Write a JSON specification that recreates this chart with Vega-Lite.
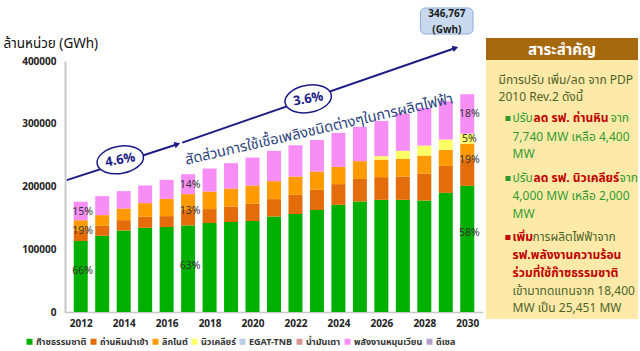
{
  "$schema": "https://vega.github.io/schema/vega-lite/v6.json",
  "padding": {"left": 3, "top": 7, "right": 0, "bottom": 4},
  "spacing": 3,
  "config": {
    "view": {"stroke": null},
    "font": "Tahoma, 'Noto Sans Thai', 'DejaVu Sans', sans-serif"
  },
  "datasets": {
    "energy": [
      {"year": 2012, "fuel": "ก๊าซธรรมชาติ", "rank": 1, "gwh": 113000},
      {"year": 2012, "fuel": "ถ่านหินนำเข้า", "rank": 2, "gwh": 16400},
      {"year": 2012, "fuel": "ลิกไนต์", "rank": 3, "gwh": 17000},
      {"year": 2012, "fuel": "พลังงานหมุนเวียน", "rank": 7, "gwh": 29200},
      {"year": 2013, "fuel": "ก๊าซธรรมชาติ", "rank": 1, "gwh": 121500},
      {"year": 2013, "fuel": "ถ่านหินนำเข้า", "rank": 2, "gwh": 15900},
      {"year": 2013, "fuel": "ลิกไนต์", "rank": 3, "gwh": 17000},
      {"year": 2013, "fuel": "พลังงานหมุนเวียน", "rank": 7, "gwh": 30200},
      {"year": 2014, "fuel": "ก๊าซธรรมชาติ", "rank": 1, "gwh": 129900},
      {"year": 2014, "fuel": "ถ่านหินนำเข้า", "rank": 2, "gwh": 16500},
      {"year": 2014, "fuel": "ลิกไนต์", "rank": 3, "gwh": 18600},
      {"year": 2014, "fuel": "พลังงานหมุนเวียน", "rank": 7, "gwh": 27600},
      {"year": 2015, "fuel": "ก๊าซธรรมชาติ", "rank": 1, "gwh": 134200},
      {"year": 2015, "fuel": "ถ่านหินนำเข้า", "rank": 2, "gwh": 17500},
      {"year": 2015, "fuel": "ลิกไนต์", "rank": 3, "gwh": 21800},
      {"year": 2015, "fuel": "พลังงานหมุนเวียน", "rank": 7, "gwh": 28100},
      {"year": 2016, "fuel": "ก๊าซธรรมชาติ", "rank": 1, "gwh": 135300},
      {"year": 2016, "fuel": "ถ่านหินนำเข้า", "rank": 2, "gwh": 17500},
      {"year": 2016, "fuel": "ลิกไนต์", "rank": 3, "gwh": 27500},
      {"year": 2016, "fuel": "พลังงานหมุนเวียน", "rank": 7, "gwh": 30300},
      {"year": 2017, "fuel": "ก๊าซธรรมชาติ", "rank": 1, "gwh": 137900},
      {"year": 2017, "fuel": "ถ่านหินนำเข้า", "rank": 2, "gwh": 24900},
      {"year": 2017, "fuel": "ลิกไนต์", "rank": 3, "gwh": 25000},
      {"year": 2017, "fuel": "พลังงานหมุนเวียน", "rank": 7, "gwh": 31800},
      {"year": 2018, "fuel": "ก๊าซธรรมชาติ", "rank": 1, "gwh": 141700},
      {"year": 2018, "fuel": "ถ่านหินนำเข้า", "rank": 2, "gwh": 22300},
      {"year": 2018, "fuel": "ลิกไนต์", "rank": 3, "gwh": 28000},
      {"year": 2018, "fuel": "พลังงานหมุนเวียน", "rank": 7, "gwh": 36600},
      {"year": 2019, "fuel": "ก๊าซธรรมชาติ", "rank": 1, "gwh": 143300},
      {"year": 2019, "fuel": "ถ่านหินนำเข้า", "rank": 2, "gwh": 24800},
      {"year": 2019, "fuel": "ลิกไนต์", "rank": 3, "gwh": 28700},
      {"year": 2019, "fuel": "พลังงานหมุนเวียน", "rank": 7, "gwh": 40400},
      {"year": 2020, "fuel": "ก๊าซธรรมชาติ", "rank": 1, "gwh": 144900},
      {"year": 2020, "fuel": "ถ่านหินนำเข้า", "rank": 2, "gwh": 27500},
      {"year": 2020, "fuel": "ลิกไนต์", "rank": 3, "gwh": 29200},
      {"year": 2020, "fuel": "พลังงานหมุนเวียน", "rank": 7, "gwh": 44500},
      {"year": 2021, "fuel": "ก๊าซธรรมชาติ", "rank": 1, "gwh": 152200},
      {"year": 2021, "fuel": "ถ่านหินนำเข้า", "rank": 2, "gwh": 27700},
      {"year": 2021, "fuel": "ลิกไนต์", "rank": 3, "gwh": 28600},
      {"year": 2021, "fuel": "พลังงานหมุนเวียน", "rank": 7, "gwh": 48300},
      {"year": 2022, "fuel": "ก๊าซธรรมชาติ", "rank": 1, "gwh": 156000},
      {"year": 2022, "fuel": "ถ่านหินนำเข้า", "rank": 2, "gwh": 30700},
      {"year": 2022, "fuel": "ลิกไนต์", "rank": 3, "gwh": 29200},
      {"year": 2022, "fuel": "พลังงานหมุนเวียน", "rank": 7, "gwh": 49900},
      {"year": 2023, "fuel": "ก๊าซธรรมชาติ", "rank": 1, "gwh": 162400},
      {"year": 2023, "fuel": "ถ่านหินนำเข้า", "rank": 2, "gwh": 32300},
      {"year": 2023, "fuel": "ลิกไนต์", "rank": 3, "gwh": 29100},
      {"year": 2023, "fuel": "พลังงานหมุนเวียน", "rank": 7, "gwh": 50500},
      {"year": 2024, "fuel": "ก๊าซธรรมชาติ", "rank": 1, "gwh": 170800},
      {"year": 2024, "fuel": "ถ่านหินนำเข้า", "rank": 2, "gwh": 33000},
      {"year": 2024, "fuel": "ลิกไนต์", "rank": 3, "gwh": 27500},
      {"year": 2024, "fuel": "พลังงานหมุนเวียน", "rank": 7, "gwh": 54100},
      {"year": 2025, "fuel": "ก๊าซธรรมชาติ", "rank": 1, "gwh": 176100},
      {"year": 2025, "fuel": "ถ่านหินนำเข้า", "rank": 2, "gwh": 36100},
      {"year": 2025, "fuel": "ลิกไนต์", "rank": 3, "gwh": 28200},
      {"year": 2025, "fuel": "พลังงานหมุนเวียน", "rank": 7, "gwh": 54600},
      {"year": 2026, "fuel": "ก๊าซธรรมชาติ", "rank": 1, "gwh": 178800},
      {"year": 2026, "fuel": "ถ่านหินนำเข้า", "rank": 2, "gwh": 36100},
      {"year": 2026, "fuel": "ลิกไนต์", "rank": 3, "gwh": 28000},
      {"year": 2026, "fuel": "นิวเคลียร์", "rank": 4, "gwh": 5400},
      {"year": 2026, "fuel": "พลังงานหมุนเวียน", "rank": 7, "gwh": 56200},
      {"year": 2027, "fuel": "ก๊าซธรรมชาติ", "rank": 1, "gwh": 178800},
      {"year": 2027, "fuel": "ถ่านหินนำเข้า", "rank": 2, "gwh": 37100},
      {"year": 2027, "fuel": "ลิกไนต์", "rank": 3, "gwh": 28100},
      {"year": 2027, "fuel": "นิวเคลียร์", "rank": 4, "gwh": 12800},
      {"year": 2027, "fuel": "พลังงานหมุนเวียน", "rank": 7, "gwh": 59400},
      {"year": 2028, "fuel": "ก๊าซธรรมชาติ", "rank": 1, "gwh": 177700},
      {"year": 2028, "fuel": "ถ่านหินนำเข้า", "rank": 2, "gwh": 42900},
      {"year": 2028, "fuel": "ลิกไนต์", "rank": 3, "gwh": 28700},
      {"year": 2028, "fuel": "นิวเคลียร์", "rank": 4, "gwh": 15900},
      {"year": 2028, "fuel": "พลังงานหมุนเวียน", "rank": 7, "gwh": 60000},
      {"year": 2029, "fuel": "ก๊าซธรรมชาติ", "rank": 1, "gwh": 189900},
      {"year": 2029, "fuel": "ถ่านหินนำเข้า", "rank": 2, "gwh": 43000},
      {"year": 2029, "fuel": "ลิกไนต์", "rank": 3, "gwh": 25500},
      {"year": 2029, "fuel": "นิวเคลียร์", "rank": 4, "gwh": 16400},
      {"year": 2029, "fuel": "พลังงานหมุนเวียน", "rank": 7, "gwh": 61100},
      {"year": 2030, "fuel": "ก๊าซธรรมชาติ", "rank": 1, "gwh": 201000},
      {"year": 2030, "fuel": "ถ่านหินนำเข้า", "rank": 2, "gwh": 42500},
      {"year": 2030, "fuel": "ลิกไนต์", "rank": 3, "gwh": 24900},
      {"year": 2030, "fuel": "นิวเคลียร์", "rank": 4, "gwh": 15900},
      {"year": 2030, "fuel": "พลังงานหมุนเวียน", "rank": 7, "gwh": 62700}
    ],
    "pct": [
      {"year": 2012, "gwh": 65700, "label": "66%"},
      {"year": 2012, "gwh": 129000, "label": "19%"},
      {"year": 2012, "gwh": 160000, "label": "15%"},
      {"year": 2017, "gwh": 73200, "label": "63%"},
      {"year": 2017, "gwh": 160800, "label": "13%"},
      {"year": 2017, "gwh": 203100, "label": "14%"},
      {"year": 2030, "gwh": 126200, "label": "58%"},
      {"year": 2030, "gwh": 242000, "label": "19%"},
      {"year": 2030, "gwh": 276400, "label": "5%"},
      {"year": 2030, "gwh": 316100, "label": "18%"}
    ],
    "arrows": [
      {"year": 2011.35, "gwh": 210100, "year_end": 2016.5, "gwh_end": 267400},
      {"year": 2016.73, "gwh": 270000, "year_end": 2029.45, "gwh_end": 420800}
    ],
    "rates": [
      {"year": 2013.84, "gwh": 242500, "rate": "4.6%"},
      {"year": 2022.59, "gwh": 339600, "rate": "3.6%"}
    ],
    "headline": [
      {"year": 2023.1, "gwh": 290200, "text": "สัดส่วนการใช้เชื้อเพลิงชนิดต่างๆในการผลิตไฟฟ้า"}
    ],
    "total": [
      {"year": 2027.82, "year_end": 2030.27, "gwh": 443000, "gwh_end": 484500}
    ],
    "totaltext": [
      {"year": 2029.05, "gwh": 475000, "text": "346,767"},
      {"year": 2029.05, "gwh": 450000, "text": "(Gwh)"}
    ],
    "panelbox": [
      {"part": "header", "top": -1.28, "bottom": -0.06},
      {"part": "body", "top": -0.06, "bottom": 14.33}
    ],
    "panel": [
      {"line": 1.06, "level": 0, "part": "intro", "text": "มีการปรับ เพิ่ม/ลด จาก  PDP"},
      {"line": 2.0, "level": 0, "part": "intro", "text": "2010 Rev.2 ดังนี้"},
      {"line": 3.17, "level": 1, "part": "item", "text": "ปรับ"},
      {"line": 3.17, "level": 1, "part": "emphAfter", "text": "ลด รฟ. ถ่านหิน"},
      {"line": 3.17, "level": 1, "part": "tailA", "text": "จาก"},
      {"line": 4.22, "level": 1, "part": "item", "text": "7,740 MW เหลือ 4,400"},
      {"line": 5.17, "level": 1, "part": "item", "text": "MW"},
      {"line": 6.5, "level": 1, "part": "item", "text": "ปรับ"},
      {"line": 6.5, "level": 1, "part": "emphAfter", "text": "ลด รฟ. นิวเคลียร์"},
      {"line": 6.5, "level": 1, "part": "tailB", "text": "จาก"},
      {"line": 7.5, "level": 1, "part": "item", "text": "4,000 MW เหลือ 2,000"},
      {"line": 8.5, "level": 1, "part": "item", "text": "MW"},
      {"line": 9.78, "level": 1, "part": "emph", "text": "เพิ่ม"},
      {"line": 9.78, "level": 1, "part": "introAfter", "text": "การผลิตไฟฟ้าจาก"},
      {"line": 10.78, "level": 1, "part": "emph", "text": "รฟ.พลังงานความร้อน"},
      {"line": 11.78, "level": 1, "part": "emph", "text": "ร่วมที่ใช้ก๊าซธรรมชาติ"},
      {"line": 12.78, "level": 1, "part": "intro", "text": "เข้ามาทดแทนจาก 18,400"},
      {"line": 13.72, "level": 1, "part": "intro", "text": "MW เป็น 25,451 MW"}
    ],
    "bullets": [
      {"line": 3.17, "level": 1, "part": "green"},
      {"line": 6.5, "level": 1, "part": "green"},
      {"line": 9.78, "level": 1, "part": "red"}
    ],
    "header": [
      {"line": -0.6, "text": "สาระสำคัญ"}
    ]
  },
  "hconcat": [
    {
      "width": 418,
      "height": 251,
      "layer": [
        {
          "data": {"name": "energy"},
          "mark": {"type": "bar", "width": 14},
          "encoding": {
            "x": {
              "field": "year", "type": "quantitative",
              "scale": {"domain": [2011.5, 2030.5], "nice": false, "zero": false},
              "axis": {
                "values": [2012, 2014, 2016, 2018, 2020, 2022, 2024, 2026, 2028, 2030],
                "format": "d", "grid": false, "ticks": false, "title": null,
                "labelFontWeight": "bold", "labelFontSize": 10, "labelColor": "#222",
                "labelPadding": 6, "domainColor": "#c8c8c8", "domainWidth": 1.5
              }
            },
            "y": {
              "field": "gwh", "type": "quantitative", "stack": "zero",
              "scale": {"domain": [0, 400000], "nice": false},
              "axis": {
                "values": [0, 50000, 100000, 150000, 200000, 250000, 300000, 350000, 400000],
                "format": "d", "grid": false, "ticks": false,
                "labelFontWeight": "bold", "labelFontSize": 10, "labelColor": "#222",
                "labelPadding": 9, "domainColor": "#c8c8c8", "domainWidth": 2,
                "title": "ล้านหน่วย (GWh)", "titleAngle": 0, "titleAlign": "left",
                "titleBaseline": "alphabetic", "titleX": -62, "titleY": -14,
                "titleFontWeight": "normal", "titleFontSize": 13.5, "titleColor": "#111"
              }
            },
            "color": {
              "field": "fuel", "type": "nominal",
              "scale": {
                "domain": ["ก๊าซธรรมชาติ", "ถ่านหินนำเข้า", "ลิกไนต์", "นิวเคลียร์", "EGAT-TNB", "น้ำมันเตา", "พลังงานหมุนเวียน", "ดีเซล"],
                "range": ["#00b000", "#e46c0a", "#ff9a00", "#ffff66", "#b9cde5", "#d99694", "#f68ef6", "#b3a2c7"]
              },
              "legend": {
                "orient": "none", "legendX": -40, "legendY": 276,
                "direction": "horizontal", "columns": 8, "title": null,
                "symbolType": "square", "symbolSize": 36, "symbolStrokeWidth": 0,
                "labelFontSize": 9, "labelFontWeight": "bold", "labelColor": "#333",
                "columnPadding": 2, "labelOffset": 2
              }
            },
            "order": {"field": "rank", "type": "quantitative"}
          }
        },
        {
          "data": {"name": "pct"},
          "mark": {"type": "text", "fontSize": 10.5, "color": "#333", "dx": 2},
          "encoding": {
            "x": {"field": "year", "type": "quantitative"},
            "y": {"field": "gwh", "type": "quantitative"},
            "text": {"field": "label"}
          }
        },
        {
          "data": {"name": "arrows"},
          "mark": {"type": "rule", "color": "#1b1b85", "strokeWidth": 2},
          "encoding": {
            "x": {"field": "year", "type": "quantitative"},
            "x2": {"field": "year_end"},
            "y": {"field": "gwh", "type": "quantitative"},
            "y2": {"field": "gwh_end"}
          }
        },
        {
          "data": {"name": "arrows"},
          "mark": {"type": "point", "shape": "triangle-right", "filled": true, "opacity": 1, "color": "#1b1b85", "size": 45, "angle": 342},
          "encoding": {
            "x": {"field": "year_end", "type": "quantitative"},
            "y": {"field": "gwh_end", "type": "quantitative"}
          }
        },
        {
          "data": {"name": "rates"},
          "mark": {"type": "point", "shape": "M-1,0A1,0.58,0,1,1,1,0A1,0.58,0,1,1,-1,0Z", "filled": false, "fill": "white", "fillOpacity": 1, "opacity": 1, "stroke": "#1b1b85", "strokeWidth": 1.5, "size": 2200, "angle": 350},
          "encoding": {
            "x": {"field": "year", "type": "quantitative"},
            "y": {"field": "gwh", "type": "quantitative"}
          }
        },
        {
          "data": {"name": "rates"},
          "mark": {"type": "text", "fontSize": 13, "fontWeight": "bold", "color": "#1b1b85", "angle": 350},
          "encoding": {
            "x": {"field": "year", "type": "quantitative"},
            "y": {"field": "gwh", "type": "quantitative"},
            "text": {"field": "rate"}
          }
        },
        {
          "data": {"name": "headline"},
          "mark": {"type": "text", "fontSize": 14.5, "color": "#2b3f7c", "angle": 347},
          "encoding": {
            "x": {"field": "year", "type": "quantitative"},
            "y": {"field": "gwh", "type": "quantitative"},
            "text": {"field": "text"}
          }
        },
        {
          "data": {"name": "total"},
          "mark": {"type": "rect", "fill": "#c9daf0", "stroke": "#8eaadb", "strokeWidth": 1, "cornerRadius": 5},
          "encoding": {
            "x": {"field": "year", "type": "quantitative"},
            "x2": {"field": "year_end"},
            "y": {"field": "gwh", "type": "quantitative"},
            "y2": {"field": "gwh_end"}
          }
        },
        {
          "data": {"name": "totaltext"},
          "mark": {"type": "text", "fontSize": 10, "fontWeight": "bold", "color": "#1a1a1a"},
          "encoding": {
            "x": {"field": "year", "type": "quantitative"},
            "y": {"field": "gwh", "type": "quantitative"},
            "text": {"field": "text"}
          }
        }
      ]
    },
    {
      "width": 152,
      "height": 258,
      "layer": [
        {
          "data": {"name": "panelbox"},
          "transform": [{"filter": "datum.part === 'body'"}],
          "mark": {"type": "rect", "fill": "#fdeaa8"},
          "encoding": {
            "x": {"datum": -0.9, "type": "quantitative", "scale": {"domain": [-0.9, 10], "nice": false, "zero": false}, "axis": null},
            "x2": {"datum": 10},
            "y": {"field": "top", "type": "quantitative", "scale": {"domain": [0, 14.33], "reverse": true, "nice": false, "zero": false}, "axis": null},
            "y2": {"field": "bottom"}
          }
        },
        {
          "data": {"name": "panelbox"},
          "transform": [{"filter": "datum.part === 'header'"}],
          "mark": {"type": "rect", "fill": "#a7690e"},
          "encoding": {
            "x": {"datum": -0.9, "type": "quantitative"},
            "x2": {"datum": 10},
            "y": {"field": "top", "type": "quantitative"},
            "y2": {"field": "bottom"}
          }
        },
        {
          "data": {"name": "header"},
          "mark": {"type": "text", "fontSize": 15, "fontWeight": "bold", "color": "white"},
          "encoding": {
            "x": {"datum": 4.55, "type": "quantitative"},
            "y": {"field": "line", "type": "quantitative"},
            "text": {"field": "text"}
          }
        },
        {
          "data": {"name": "bullets"},
          "transform": [{"filter": "datum.part === 'green'"}],
          "mark": {"type": "text", "fontSize": 10, "color": "#2f9a2f", "align": "left", "dx": -8, "text": "▪"},
          "encoding": {
            "x": {"field": "level", "type": "quantitative"},
            "y": {"field": "line", "type": "quantitative"}
          }
        },
        {
          "data": {"name": "bullets"},
          "transform": [{"filter": "datum.part === 'red'"}],
          "mark": {"type": "text", "fontSize": 10, "color": "#c00000", "align": "left", "dx": -8, "text": "▪"},
          "encoding": {
            "x": {"field": "level", "type": "quantitative"},
            "y": {"field": "line", "type": "quantitative"}
          }
        },
        {
          "data": {"name": "panel"},
          "transform": [{"filter": "datum.part === 'intro'"}],
          "mark": {"type": "text", "fontSize": 12, "color": "#4f6228", "align": "left"},
          "encoding": {
            "x": {"field": "level", "type": "quantitative"},
            "y": {"field": "line", "type": "quantitative"},
            "text": {"field": "text"}
          }
        },
        {
          "data": {"name": "panel"},
          "transform": [{"filter": "datum.part === 'item'"}],
          "mark": {"type": "text", "fontSize": 12, "color": "#2f9a2f", "align": "left"},
          "encoding": {
            "x": {"field": "level", "type": "quantitative"},
            "y": {"field": "line", "type": "quantitative"},
            "text": {"field": "text"}
          }
        },
        {
          "data": {"name": "panel"},
          "transform": [{"filter": "datum.part === 'emph'"}],
          "mark": {"type": "text", "fontSize": 12, "fontWeight": "bold", "color": "#c00000", "align": "left"},
          "encoding": {
            "x": {"field": "level", "type": "quantitative"},
            "y": {"field": "line", "type": "quantitative"},
            "text": {"field": "text"}
          }
        },
        {
          "data": {"name": "panel"},
          "transform": [{"filter": "datum.part === 'emphAfter'"}],
          "mark": {"type": "text", "fontSize": 12, "fontWeight": "bold", "color": "#c00000", "align": "left", "dx": 21},
          "encoding": {
            "x": {"field": "level", "type": "quantitative"},
            "y": {"field": "line", "type": "quantitative"},
            "text": {"field": "text"}
          }
        },
        {
          "data": {"name": "panel"},
          "transform": [{"filter": "datum.part === 'tailA'"}],
          "mark": {"type": "text", "fontSize": 12, "color": "#2f9a2f", "align": "left", "dx": 98},
          "encoding": {
            "x": {"field": "level", "type": "quantitative"},
            "y": {"field": "line", "type": "quantitative"},
            "text": {"field": "text"}
          }
        },
        {
          "data": {"name": "panel"},
          "transform": [{"filter": "datum.part === 'tailB'"}],
          "mark": {"type": "text", "fontSize": 12, "color": "#2f9a2f", "align": "left", "dx": 107},
          "encoding": {
            "x": {"field": "level", "type": "quantitative"},
            "y": {"field": "line", "type": "quantitative"},
            "text": {"field": "text"}
          }
        },
        {
          "data": {"name": "panel"},
          "transform": [{"filter": "datum.part === 'introAfter'"}],
          "mark": {"type": "text", "fontSize": 12, "color": "#4f6228", "align": "left", "dx": 20},
          "encoding": {
            "x": {"field": "level", "type": "quantitative"},
            "y": {"field": "line", "type": "quantitative"},
            "text": {"field": "text"}
          }
        }
      ]
    }
  ]
}
